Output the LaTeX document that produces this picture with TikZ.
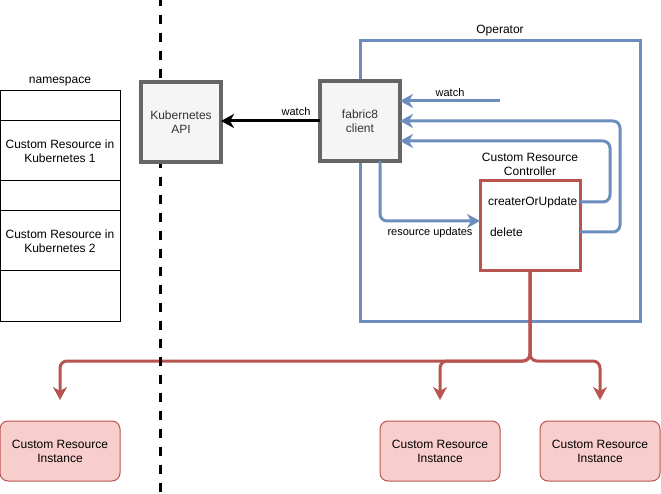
\documentclass[tikz,border=0pt]{standalone}
\usepackage{fontspec}
\setmainfont{Liberation Sans}
\usetikzlibrary{arrows.meta}
\definecolor{bluel}{HTML}{6C8EBF}
\definecolor{redl}{HTML}{B85450}
\definecolor{redf}{HTML}{F8CECC}
\definecolor{greyf}{HTML}{F5F5F5}
\definecolor{greyl}{HTML}{666666}
\definecolor{txtg}{HTML}{333333}
\tikzset{
  every node/.style={inner sep=0pt, outer sep=0pt},
  txt/.style={font=\fontsize{12}{14}\selectfont, align=center},
  small/.style={font=\fontsize{11}{13}\selectfont},
  greybox/.style={txt, draw=greyl, fill=greyf, line width=3.3pt, minimum width=80pt, minimum height=80pt, text=txtg},
  nsrow/.style={txt, draw=black, line width=1pt, minimum width=120pt},
  instbox/.style={txt, draw=redl, fill=redf, line width=1pt, rounded corners=8pt, minimum width=120pt, minimum height=60pt},
  ctrlbox/.style={draw=redl, fill=white, line width=3pt, minimum width=100pt, minimum height=90pt},
  opbox/.style={draw=bluel, line width=3pt, minimum width=280pt, minimum height=280pt},
  tip/.style={-{Stealth[length=13pt, width=14pt, inset=4pt]}},
  bluearrow/.style={draw=bluel, line width=3pt, rounded corners=7pt, tip},
  redarrow/.style={draw=redl, line width=3pt, rounded corners=7pt, tip},
  blackarrow/.style={draw=black, line width=3pt, tip},
  divider/.style={draw=black, line width=3pt, dash pattern=on 9pt off 9pt}
}
\begin{document}
\begin{tikzpicture}[x=1pt, y=-1pt]
\useasboundingbox (0,0) rectangle (661,494);

% namespace column
\node[txt] (nslabel) at (60,82) {namespace};
\node[nsrow, minimum height=30pt] (ns1) at (60,106) {};
\node[nsrow, minimum height=60pt] (ns2) at (60,151) {Custom Resource in\\Kubernetes 1};
\node[nsrow, minimum height=30pt] (ns3) at (60,196) {};
\node[nsrow, minimum height=60pt] (ns4) at (60,241) {Custom Resource in\\Kubernetes 2};
\node[nsrow, minimum height=50pt] (ns5) at (60,296) {};

% operator frame
\node[opbox] (op) at (500,181) {};
\node[txt] (oplabel) at (500,31) {Operator};

% controller
\node[ctrlbox] (ctrl) at (530,226) {};
\node[txt] (ctrllabel) at (530,164) {Custom Resource\\Controller};
\node[txt, anchor=west] (cu) at (488,202) {createrOrUpdate};
\node[txt, anchor=west] (del) at (490,232) {delete};

% instances
\node[instbox] (i1) at (60,451) {Custom Resource\\Instance};
\node[instbox] (i2) at (440,451) {Custom Resource\\Instance};
\node[instbox] (i3) at (600,451) {Custom Resource\\Instance};

% controller fans out to the instances
\coordinate (fork) at (530,361);
\draw[redarrow] (ctrl.south) -- (fork) -| ([yshift=21pt]i1.north);
\draw[redarrow] (ctrl.south) -- (fork) -| ([yshift=21pt]i2.north);
\draw[redarrow] (ctrl.south) -- (fork) -| ([yshift=21pt]i3.north);

% cluster boundary
\draw[divider] (160,-3.3) -- (160,494);

% API server and client
\node[greybox] (k8s) at (181,122) {Kubernetes\\API};
\node[greybox] (fab) at (360,121) {fabric8\\client};

\draw[blackarrow] (fab.west) -- (k8s.east |- fab.west);
\node[small] (w1) at (296,112) {watch};

% operator internal flows
\coordinate (watchsrc) at (500,101);
\draw[bluearrow] (watchsrc) -- ([yshift=20pt]fab.east);
\node[small] (w2) at (450,93) {watch};
\draw[bluearrow] (ctrl.east |- cu) -- (610,202) -- (610,141) -- ([yshift=-20pt]fab.east);
\draw[bluearrow] (ctrl.east |- del) -- (620,232) -- (620,121) -- (fab.east);
\draw[bluearrow] ([xshift=20pt]fab.south) |- ([yshift=5pt]ctrl.west);
\node[small] (rulabel) at (430,233) {resource updates};
\end{tikzpicture}
\end{document}
